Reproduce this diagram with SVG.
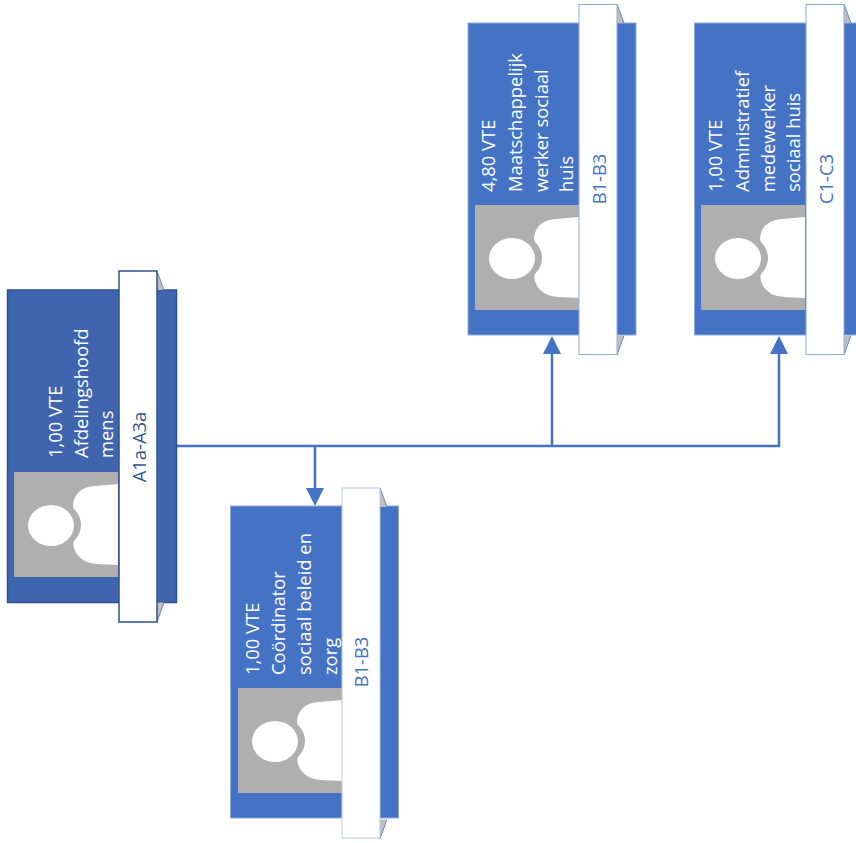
<svg xmlns="http://www.w3.org/2000/svg" xmlns:xlink="http://www.w3.org/1999/xlink" width="856" height="843" viewBox="0 0 856 843">
<style>
text{font-family:"Open Sans","Noto Sans","Liberation Sans",sans-serif;font-size:18.4px}
.t{fill:#fff}
.c{fill:none;stroke:#4472c4;stroke-width:2.5}
.a{fill:#4472c4}
.card{fill:#4472c4;stroke:#8faadc;stroke-width:1}
.tab{fill:#fff;stroke:#8faadc;stroke-width:1}
.fold{fill:#bfbfbf;stroke:none}
.diag{fill:none;stroke:#4472c4;stroke-width:.8}
.dark .card{fill:#3f65ae;stroke:#2f528f;stroke-width:1.5}
.dark .tab{stroke:#2f528f;stroke-width:1.5}
.dark .l{fill:#2f5597}
.l{fill:#4472c4}
</style>
<defs>
<g id="photo">
<rect x="14" y="472" width="104" height="105" fill="#afafaf"/>
<ellipse cx="51" cy="525.500" rx="23" ry="20.500" fill="#fff"/>
<path d="M118,484 L95,486 Q78,487 74,500 Q72,506 74,509 Q81,516 81,525 Q81,534 74,541 Q72,545 76,553 Q82,563 97,564 L118,565 Z" fill="#fff"/>
</g>
<g id="folds">
<path class="fold" d="M157,271 L164,290 L157,290 Z"/>
<path class="fold" d="M157,622 L164,602.500 L157,602.500 Z"/>
<path class="diag" d="M157,271 L164,290 M157,622 L164,602.500"/>
</g>
</defs>
<g id="connectors">
<path class="c" d="M176.500,446 H779 V352"/>
<path class="c" d="M552,446 V352"/>
<path class="c" d="M315,446 V490"/>
<path class="a" d="M552,336 L561,354 H543 Z"/>
<path class="a" d="M779,336 L788,354 H770 Z"/>
<path class="a" d="M315,506 L306,488 H324 Z"/>
</g>
<g id="node-afdelingshoofd" class="dark">
<rect class="card" x="7.500" y="290" width="169" height="312.500"/>
<use href="#photo"/><use href="#folds"/>
<rect class="tab" x="119" y="271" width="38" height="351"/>
<text class="t" transform="translate(62,458) rotate(-90)">1,00 VTE</text>
<text class="t" transform="translate(88,458) rotate(-90)">Afdelingshoofd</text>
<text class="t" transform="translate(113,458) rotate(-90)">mens</text>
<text class="l" text-anchor="middle" transform="translate(146,447) rotate(-90)">A1a-A3a</text>
</g>
<g id="node-coordinator">
<rect class="card" x="230.500" y="506" width="168" height="312"/>
<use href="#photo" transform="translate(224,216)"/><use href="#folds" transform="translate(223,217)"/>
<rect class="tab" x="342" y="488" width="38" height="350" style="stroke:#b4c7e7"/>
<text class="t" transform="translate(259,675) rotate(-90)">1,00 VTE</text>
<text class="t" transform="translate(285,675) rotate(-90)">Coördinator</text>
<text class="t" transform="translate(311,675) rotate(-90)">sociaal beleid en</text>
<text class="t" transform="translate(337,675) rotate(-90)">zorg</text>
<text class="l" text-anchor="middle" transform="translate(368,662) rotate(-90)">B1-B3</text>
</g>
<g id="node-maatschappelijk">
<rect class="card" x="468" y="23" width="168" height="312"/>
<use href="#photo" transform="translate(461,-267)"/><use href="#folds" transform="translate(460,-267)"/>
<rect class="tab" x="579" y="4.500" width="38" height="350"/>
<text class="t" transform="translate(495,192) rotate(-90)">4,80 VTE</text>
<text class="t" transform="translate(522,192) rotate(-90)">Maatschappelijk</text>
<text class="t" transform="translate(548,192) rotate(-90)">werker sociaal</text>
<text class="t" transform="translate(573,192) rotate(-90)">huis</text>
<text class="l" text-anchor="middle" transform="translate(606,179) rotate(-90)">B1-B3</text>
</g>
<g id="node-administratief">
<rect class="card" x="694.500" y="23" width="168" height="312"/>
<use href="#photo" transform="translate(687,-267)"/><use href="#folds" transform="translate(687,-267)"/>
<rect class="tab" x="806" y="4.500" width="38" height="350"/>
<text class="t" transform="translate(722,192) rotate(-90)">1,00 VTE</text>
<text class="t" transform="translate(749,192) rotate(-90)">Administratief</text>
<text class="t" transform="translate(775,192) rotate(-90)" textLength="107" lengthAdjust="spacingAndGlyphs">medewerker</text>
<text class="t" transform="translate(800,192) rotate(-90)">sociaal huis</text>
<text class="l" text-anchor="middle" transform="translate(833,179) rotate(-90)">C1-C3</text>
</g>
</svg>
